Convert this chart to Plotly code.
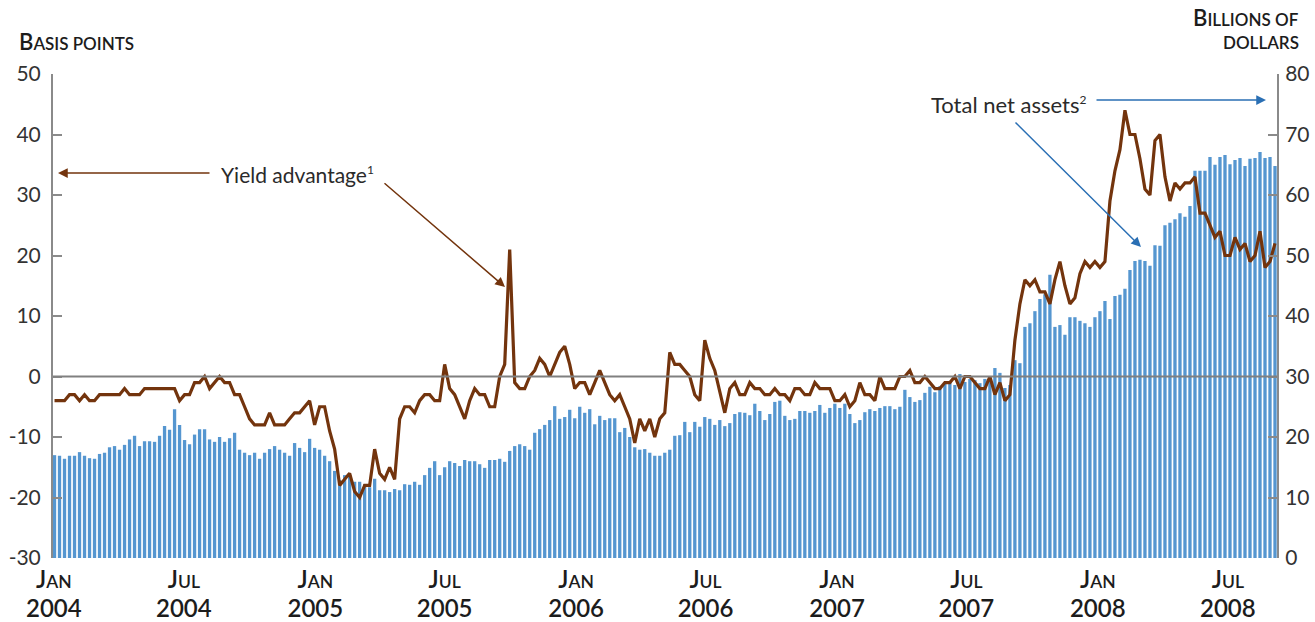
import pandas as pd
import plotly.graph_objects as go

# Weekly total net assets (billions of dollars), Jan 2004 - Sep 2008
net_assets = [
    17.0, 16.9, 16.4, 16.9, 16.9, 17.5, 16.9, 16.5, 16.4, 17.2, 17.4, 18.3, 18.5, 17.9, 18.7, 19.6,
    20.2, 18.5, 19.3, 19.3, 19.2, 20.2, 21.8, 21.2, 24.6, 22.0, 19.5, 18.8, 20.4, 21.3, 21.3, 19.6,
    19.2, 20.0, 19.2, 19.8, 20.7, 17.9, 17.4, 17.0, 17.4, 16.4,
    17.4, 18.0, 18.5, 17.9, 17.4, 16.9, 19.0, 18.2, 17.5, 19.7, 18.2, 17.9, 16.9, 16.0, 14.4, 12.9,
    13.7, 13.7, 12.6, 12.6, 12.2, 11.7, 13.1, 11.2, 11.2, 10.9, 11.4, 11.2, 12.2, 12.1, 12.6, 12.1,
    13.7, 14.9, 16.0, 13.7, 15.0, 16.0, 15.7, 15.2, 16.2, 16.0,
    16.0, 15.5, 14.9, 16.2, 16.2, 16.4, 15.9, 17.7, 18.5, 18.8, 18.5, 17.9, 20.7, 21.3, 22.0, 22.8,
    25.1, 23.0, 23.3, 24.5, 23.1, 25.0, 24.0, 24.6, 22.1, 23.5, 22.8, 23.1, 23.1, 20.8, 21.5, 20.0,
    18.3, 17.9, 18.0, 17.4, 16.9, 16.9, 17.4, 17.9, 20.2, 20.3,
    22.5, 20.8, 22.5, 21.7, 23.3, 23.0, 22.0, 22.8, 21.8, 22.3, 23.8, 24.1, 24.0, 23.6, 25.5, 24.3,
    22.8, 23.8, 25.8, 26.0, 23.5, 22.8, 23.0, 24.3, 24.3, 24.0, 24.3, 25.3, 24.0, 24.8, 25.5, 24.8,
    25.5, 23.8, 22.3, 22.8, 24.1, 24.6, 24.3, 24.8, 25.1, 25.1,
    24.6, 25.0, 27.8, 26.6, 25.8, 26.1, 27.3, 28.3, 27.4, 28.4, 28.8, 29.1, 28.6, 30.4, 29.1, 29.6,
    29.4, 28.9, 29.6, 29.9, 31.4, 30.6, 28.1, 28.6, 32.7, 32.2, 38.2, 38.8, 40.8, 42.8, 43.6, 46.8,
    38.2, 38.5, 36.9, 39.8,
    39.8, 39.2, 38.8, 38.2, 39.8, 40.8, 42.5, 39.5, 43.3, 43.5, 44.5, 47.6, 49.1, 49.3, 49.1, 48.3,
    51.7, 51.6, 55.0, 55.4, 56.0, 57.0, 56.4, 58.2, 64.0, 64.0, 64.0, 66.3, 65.0, 66.3, 66.6, 65.1,
    65.8, 66.1, 64.8, 66.0, 66.1, 67.1, 66.1, 66.3, 64.8,
]

# Weekly yield advantage (basis points)
yield_adv = [
    -4, -4, -4, -3, -3, -4, -3, -4, -4, -3, -3, -3, -3, -3, -2, -3,
    -3, -3, -2, -2, -2, -2, -2, -2, -2, -4, -3, -3, -1, -1, 0, -2,
    -1, 0, -1, -1, -3, -3, -5, -7, -8, -8,
    -8, -6, -8, -8, -8, -7, -6, -6, -5, -4, -8, -5, -5, -9, -12, -18,
    -17, -16, -19, -20, -18, -18, -12, -16, -17, -15, -17, -7, -5, -5, -6, -4,
    -3, -3, -4, -4, 2, -2, -3, -5, -7, -4,
    -2, -3, -3, -5, -5, 0, 2, 21, -1, -2, -2, 0, 1, 3, 2, 0,
    2, 4, 5, 2, -2, -1, -1, -3, -1, 1, -1, -3, -4, -3, -5, -7,
    -11, -7, -9, -7, -10, -7, -6, 4, 2, 2,
    1, 0, -3, -4, 6, 3, 1, -2.5, -6, -2, -1, -3, -3, -1, -2, -2,
    -3, -3, -2, -3, -3, -4, -2, -2, -3, -3, -1, -2, -2, -2, -4, -4,
    -3, -5, -4, -1, -3, -3, -4, 0, -2, -2,
    -2, 0, 0, 1, -1, -1, 0, -1, -2, -2, -1, -1, 0, -2, 0, 0,
    -1, -2, -2, 0, -3, -1, -4, -3, 6, 12, 16, 15, 16, 14, 14, 12,
    16, 19, 15, 12, 13, 17,
    19, 18, 19, 18, 19, 29, 34, 37.5, 44, 40, 40, 36, 31, 30, 39, 40,
    33, 29, 32, 31, 32, 32, 33, 27, 27, 25, 23, 24, 20, 20, 23, 21,
    22, 19, 20, 24, 18, 19, 22,
]

weeks = pd.date_range("2004-01-02", periods=len(net_assets), freq="7D")

tick_dates = ["2004-01-01", "2004-07-01", "2005-01-01", "2005-07-01", "2006-01-01",
              "2006-07-01", "2007-01-01", "2007-07-01", "2008-01-01", "2008-07-01"]
tick_months = ["Jan", "Jul", "Jan", "Jul", "Jan", "Jul", "Jan", "Jul", "Jan", "Jul"]
tick_years = ["2004", "2004", "2005", "2005", "2006", "2006", "2007", "2007", "2008", "2008"]

left_ticks = [-30, -20, -10, 0, 10, 20, 30, 40, 50]
right_ticks = [0, 10, 20, 30, 40, 50, 60, 70, 80]

FONT = "Lato"
TXT = "#1c1c1c"
AXC = "#8a8a8a"
BROWN = "#73340d"
BLUE_BAR = "#5596d0"
BLUE_ARROW = "#2a6fb4"


def small_caps(word, big=24, small=17.5):
    return (f"<span style='font-size:{big}px'>{word[0].upper()}</span>"
            f"<span style='font-size:{small}px'>{word[1:].upper()}</span>")


tick_text = [f"{small_caps(m)}<br><span style='font-size:24px'>{y}</span>"
             for m, y in zip(tick_months, tick_years)]

fig = go.Figure()
fig.add_trace(go.Bar(x=weeks, y=net_assets, marker_color=BLUE_BAR,
                     marker_line_width=0, yaxis="y", hoverinfo="skip"))
fig.add_trace(go.Scatter(x=weeks, y=yield_adv, yaxis="y2", mode="lines",
                         line=dict(color=BROWN, width=3.2), hoverinfo="skip"))

L, R, T, B = 53, 38, 74, 64
W, H = 1315, 622
PW, PH = W - L - R, H - T - B


def px(x):
    return (x - L) / PW


def py(y):
    return (H - B - y) / PH


axis_style = dict(showline=True, linecolor=AXC, linewidth=2, ticks="inside",
                  ticklen=9, tickwidth=2, tickcolor=AXC, showgrid=False,
                  zeroline=False, automargin=False,
                  tickfont=dict(family=FONT, size=21, color="#333333"))

fig.update_layout(
    width=W, height=H,
    margin=dict(l=L, r=R, t=T, b=B, autoexpand=False),
    paper_bgcolor="white", plot_bgcolor="white",
    showlegend=False, bargap=0.34,
    font=dict(family=FONT, color=TXT),
    xaxis=dict(type="date", range=["2003-12-30 21:00", "2008-09-07 19:00"],
               tickvals=tick_dates, ticktext=tick_text, showline=False,
               ticks="", showgrid=False, zeroline=False, automargin=False,
               ticklabelstandoff=7,
               tickfont=dict(family=FONT, size=22, color=TXT, weight=600)),
    yaxis=dict(side="right", range=[0, 80], ticklabelstandoff=2,
               tickvals=right_ticks, ticktext=[str(v) for v in right_ticks], **axis_style),
    yaxis2=dict(side="left", overlaying="y", range=[-30, 50], ticklabelstandoff=6,
                tickvals=left_ticks, ticktext=[str(v) for v in left_ticks], **axis_style),
)

fig.add_shape(type="line", xref="paper", yref="y2", x0=0, x1=1, y0=0, y1=0,
              line=dict(color="#808080", width=2), layer="above")

SUP = "<sup><span style='font-size:12px'>{}</span></sup>"

ann = []
# axis titles
ann.append(dict(text=small_caps("Basis", 22, 17) + "<span style='font-size:17px'> POINTS</span>",
                x=px(17), y=py(41), xanchor="left", yanchor="middle", showarrow=False,
                font=dict(family=FONT, size=17, color=TXT, weight=600)))
ann.append(dict(text=small_caps("Billions", 22, 17) + "<span style='font-size:17px'> OF</span>",
                x=px(1301), y=py(18), xanchor="right", yanchor="middle", showarrow=False,
                font=dict(family=FONT, size=17, color=TXT, weight=600)))
ann.append(dict(text="<span style='font-size:17px'>DOLLARS</span>",
                x=px(1301), y=py(43), xanchor="right", yanchor="middle", showarrow=False,
                font=dict(family=FONT, size=17, color=TXT, weight=600)))
# series labels
ann.append(dict(text="Yield advantage" + SUP.format(1), x=px(219), y=py(174),
                xanchor="left", yanchor="middle", showarrow=False,
                font=dict(family=FONT, size=21, color="#2a2a2a")))
ann.append(dict(text="Total net assets" + SUP.format(2), x=px(1089), y=py(105),
                xanchor="right", yanchor="middle", showarrow=False,
                font=dict(family=FONT, size=22, color="#2a2a2a")))
# arrows
arrows = [
    ((58, 173), (211, 173), BROWN),
    ((505, 287), (383, 182), BROWN),
    ((1266, 100), (1095, 100), BLUE_ARROW),
    ((1141, 247), (1014, 121), BLUE_ARROW),
]
for (tx, ty), (sx, sy), col in arrows:
    ann.append(dict(text="", x=px(tx), y=py(ty), xref="paper", yref="paper",
                    ax=sx - tx, ay=sy - ty, axref="pixel", ayref="pixel",
                    showarrow=True, arrowhead=2, arrowsize=1.3, arrowwidth=1.5,
                    arrowcolor=col, standoff=0, startstandoff=0))

for a in ann:
    a.setdefault("xref", "paper")
    a.setdefault("yref", "paper")
fig.update_layout(annotations=ann)

fig.write_html("out.html", config={"displayModeBar": False},
               post_script="document.body.style.margin='0';document.body.style.overflow='hidden';")
